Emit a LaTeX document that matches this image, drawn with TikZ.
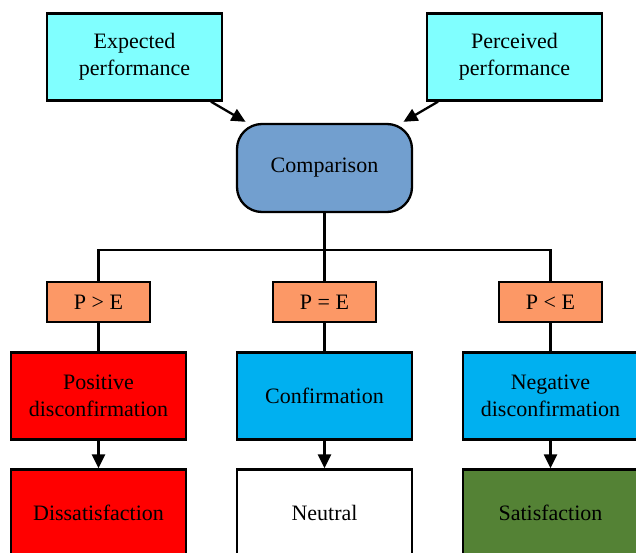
\documentclass[tikz,border=0pt]{standalone}
\usepackage{fontspec}
\setmainfont{Liberation Serif}
\usetikzlibrary{arrows.meta}
\definecolor{inputcyan}{RGB}{128,255,255}
\definecolor{compblue}{RGB}{114,159,207}
\definecolor{condorange}{RGB}{252,152,102}
\definecolor{discred}{RGB}{255,0,0}
\definecolor{discblue}{RGB}{0,176,240}
\definecolor{satgreen}{RGB}{84,130,53}

\begin{document}
\begin{tikzpicture}[x=1pt,y=-1pt,>={Triangle[length=14pt,width=13pt]},
  box/.style={draw,line width=2.3pt,inner sep=0pt,align=center,
    font=\fontsize{22}{27}\selectfont,minimum width=175pt,minimum height=87pt},
  cond/.style={box,fill=condorange,minimum width=103pt,minimum height=40pt},
  link/.style={line width=2.3pt}]
\useasboundingbox (0,0) rectangle (636,553);
\clip (0,0) rectangle (636,553);
\node[box,fill=inputcyan] (E) at (134.5,57) {Expected\\performance};
\node[box,fill=inputcyan] (P) at (514.5,57) {Perceived\\performance};
\node[box,fill=compblue,rounded corners=25pt,minimum height=88pt] (C) at (324.5,168) {Comparison};
\coordinate (bus) at (324.5,250);
\node[cond] (GT) at (98.5,302) {P > E};
\node[cond] (EQ) at (324.5,302) {P = E};
\node[cond] (LT) at (550.5,302) {P < E};
\node[box,fill=discred] (pos) at (98.5,396) {Positive\\disconfirmation};
\node[box,fill=discblue] (conf) at (324.5,396) {Confirmation};
\node[box,fill=discblue] (neg) at (550.5,396) {Negative\\disconfirmation};
\node[box,fill=discred] (dis) at (98.5,513) {Dissatisfaction};
\node[box,fill=white] (neu) at (324.5,513) {Neutral};
\node[box,fill=satgreen] (sat) at (550.5,513) {Satisfaction};
\draw[link,->,shorten >=2pt] (E) -- (C);
\draw[link,->,shorten >=2pt] (P) -- (C);
\draw[link] (C) -- (EQ);
\draw[link] (bus) -| (GT);
\draw[link] (bus) -| (LT);
\draw[link] (GT) -- (pos);
\draw[link] (EQ) -- (conf);
\draw[link] (LT) -- (neg);
\draw[link,->] (pos) -- (dis);
\draw[link,->] (conf) -- (neu);
\draw[link,->] (neg) -- (sat);
\end{tikzpicture}
\end{document}
